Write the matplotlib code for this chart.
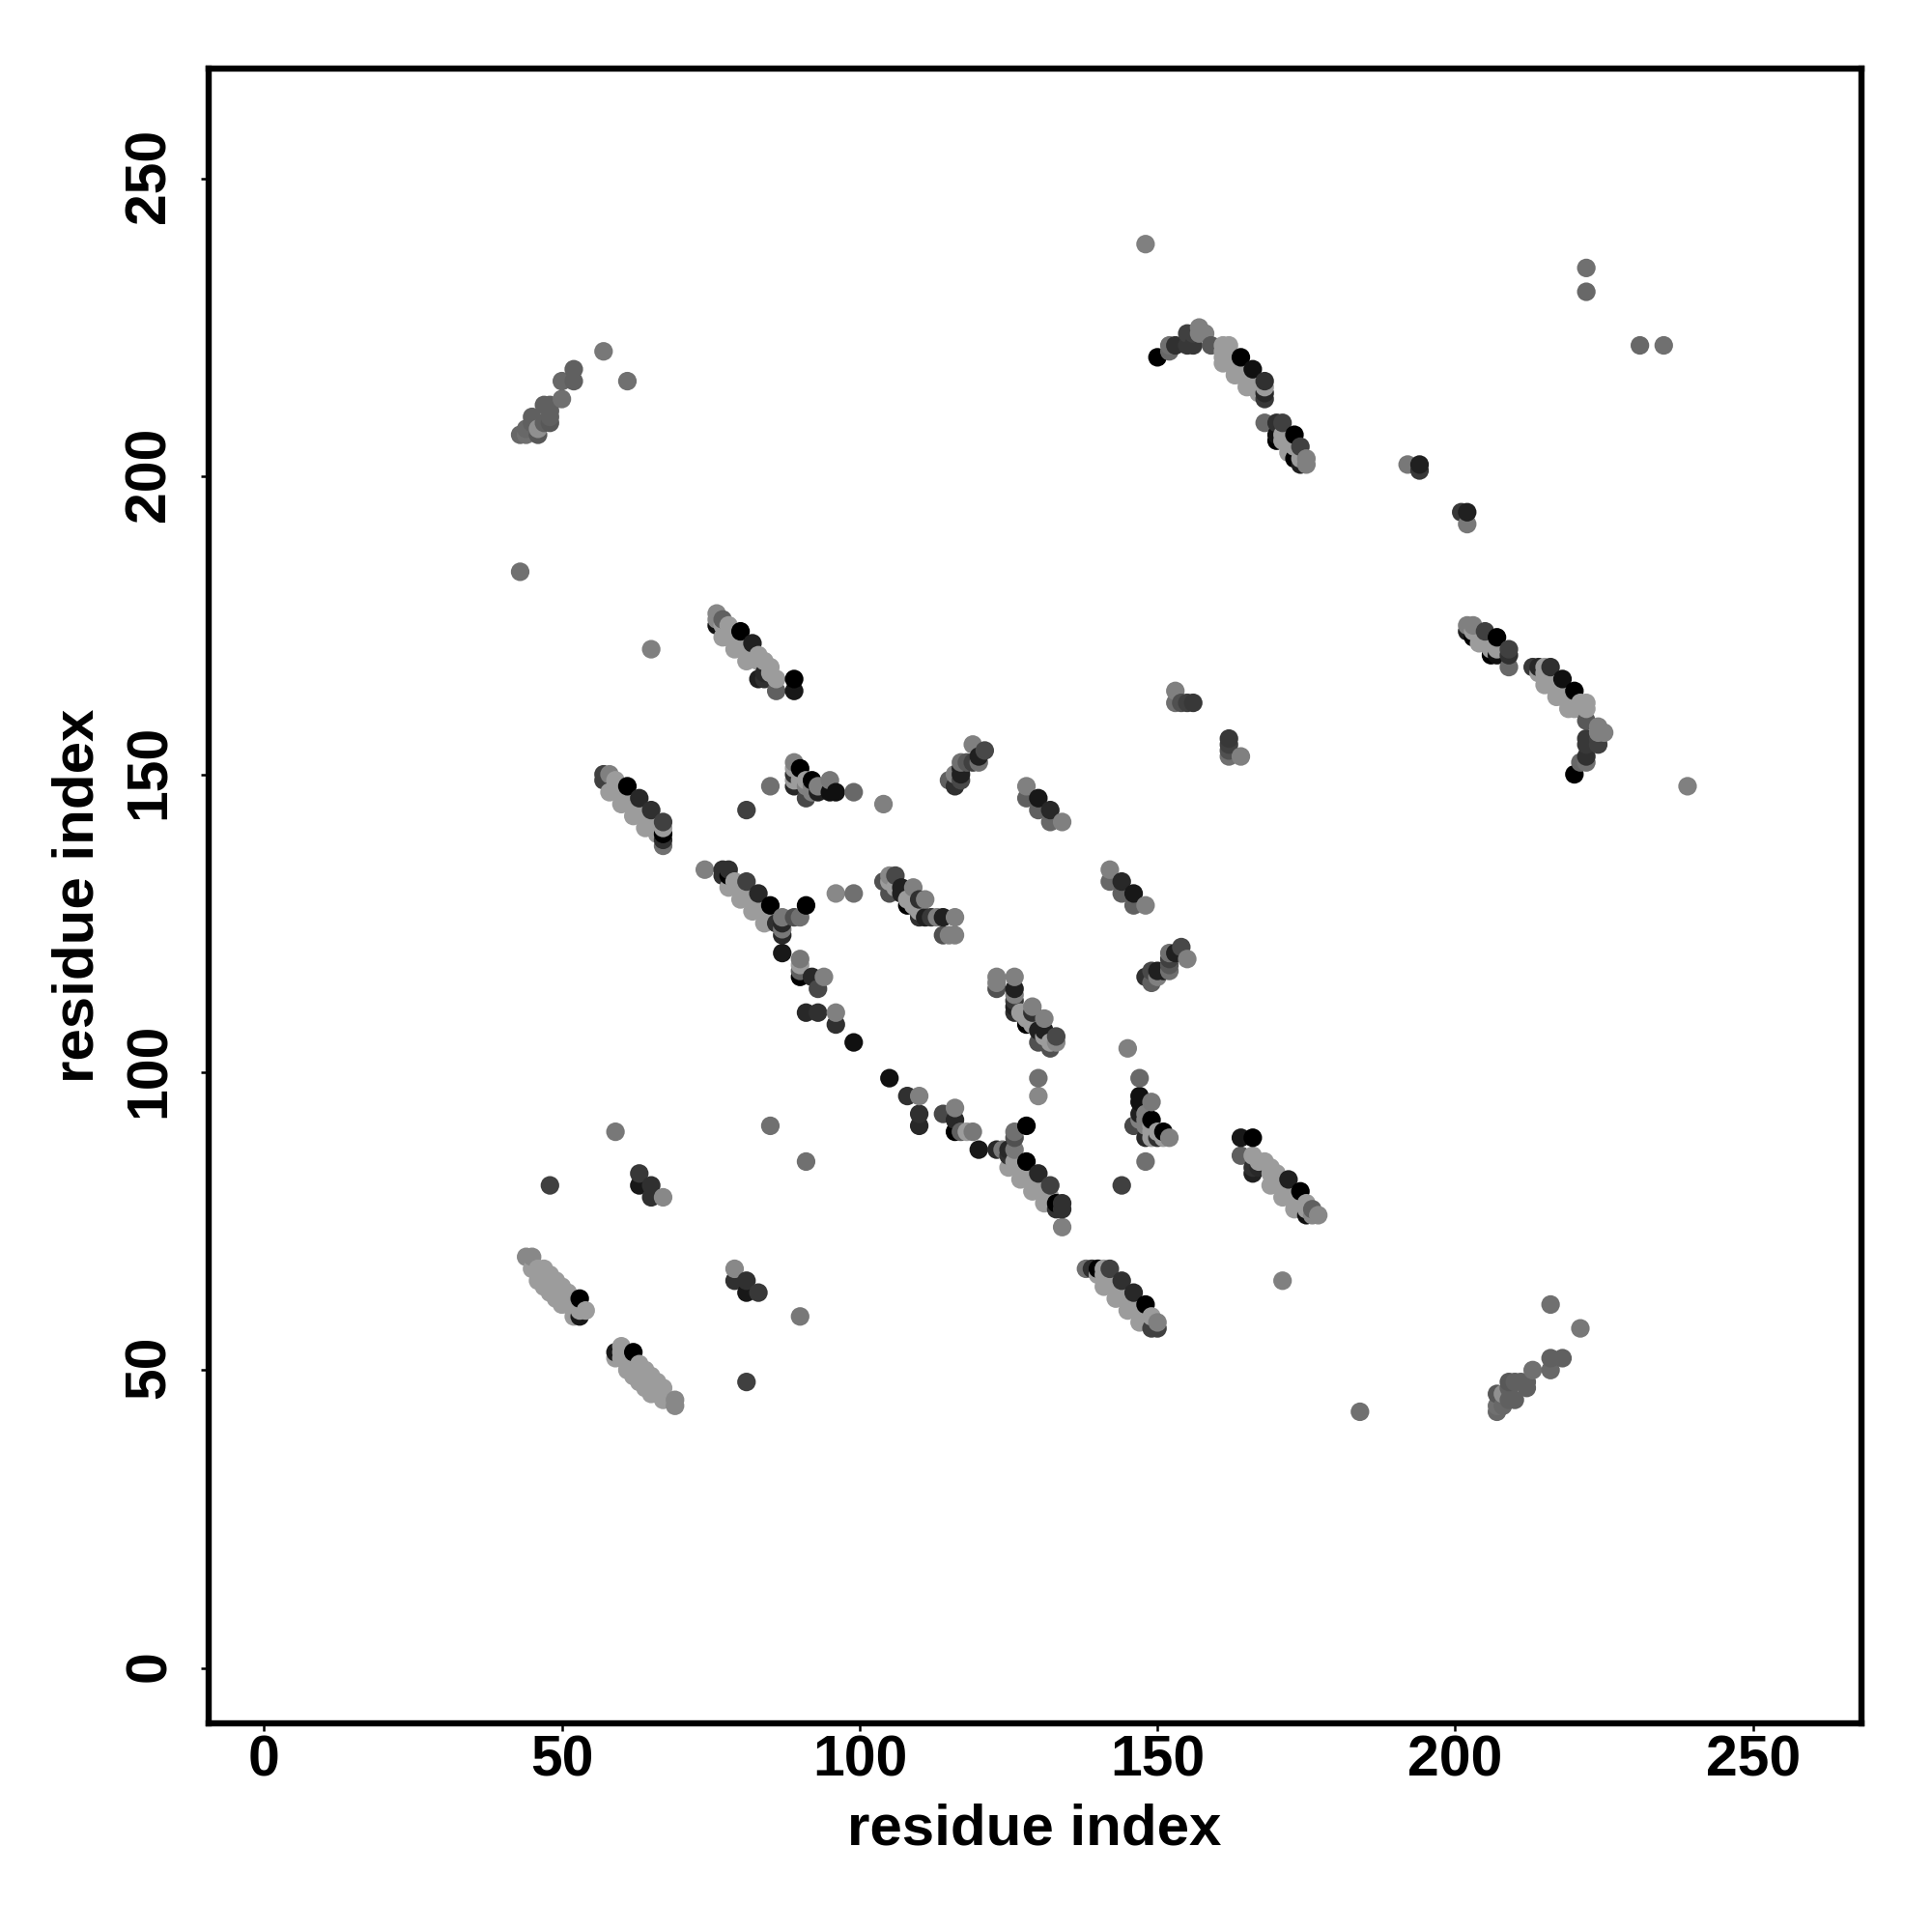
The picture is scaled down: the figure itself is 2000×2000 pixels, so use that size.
import matplotlib
matplotlib.use('Agg')
import matplotlib.pyplot as plt
from matplotlib.transforms import ScaledTranslation
import numpy as np

# contacts as (residue, residue, grey level), only the half with first < second
LT = 156

band_44_69 = [(44,69,136),(45,69,136),(45,67,LT),(46,67,LT),(47,67,LT),(46,66,LT),(47,66,LT),(48,66,LT),
              (46,65,LT),(47,65,LT),(48,65,LT),(49,65,LT),(47,64,LT),(48,64,LT),(49,64,LT),(50,64,LT),
              (48,63,LT),(49,63,LT),(50,63,LT),(51,63,LT),(49,62,LT),(50,62,LT),(51,62,LT),(50,61,LT),
              (51,61,LT),(52,61,LT),(52,60,LT),(53,62,0),(53,59,24),(52,59,LT),(54,60,LT),(53,60,LT)]
arc_43_221 = [(43,207,104),(44,207,112),(46,207,88),(44,208,104),(46,208,144),(45,209,96),(45,210,96),
              (47,209,96),(48,209,88),(48,210,96),(48,211,96),(47,212,96),(48,212,96),(50,213,112),
              (50,216,104),(52,216,96),(52,218,96),(57,221,120),(61,216,112)]
loose = [(43,184,112),(65,171,128),(48,81,64),(59,90,120),(65,79,48),(65,81,48),(63,81,24),(63,83,56),
         (67,79,136),(85,91,112),(81,144,64),(85,148,112),(104,145,128),(148,239,128),(222,235,112),
         (222,231,104),(96,130,136),(99,130,112)]
band_57_150 = [(57,150,64),(57,149,64),(58,150,128),(59,149,LT),(58,147,LT),(59,148,LT),(60,147,LT),
               (60,145,LT),(61,146,LT),(62,145,LT),(62,143,LT),(63,144,LT),(64,143,LT),(64,141,LT),
               (65,142,LT),(66,141,LT),(66,140,LT),(61,148,0),(63,146,40),(65,144,48),(67,142,64),
               (67,141,LT),(67,140,0),(67,139,48),(67,138,112)]
band_76_177 = [(76,177,136),(76,176,136),(76,175,16),(77,176,96),(77,175,LT),(78,175,LT),(77,173,LT),
               (78,173,LT),(79,173,LT),(80,172,LT),(81,171,LT),(79,171,LT),(80,174,0),(82,172,32),
               (82,170,LT),(83,169,LT),(81,169,LT),(83,170,LT),(84,169,LT),(83,166,32),(84,167,40),
               (84,166,48),(85,168,LT),(85,167,LT),(86,166,LT),(86,164,96),(89,166,0),(89,164,24)]
patch_89_99 = [(89,152,128),(89,151,LT),(89,150,48),(89,149,LT),(89,148,40),(90,151,0),(90,150,LT),
               (90,149,LT),(91,149,LT),(91,148,128),(91,146,72),(92,149,0),(92,148,128),(92,147,128),
               (93,148,128),(93,147,32),(95,149,120),(95,147,16),(96,147,16),(99,147,104)]
band_74_134 = [(74,134,128),(77,134,48),(77,133,48),(78,134,48),(78,133,0),(79,132,LT),(78,131,LT),
               (80,131,LT),(81,130,LT),(80,129,LT),(82,129,LT),(83,128,LT),(82,127,LT),(84,127,LT),
               (84,125,LT),(81,132,64),(83,130,40),(85,128,0),(85,126,LT),(86,125,48),(87,126,120),
               (87,125,40),(87,124,120),(87,123,40),(87,120,24),(89,126,80),(90,126,112),(91,128,0)]
tail_90_105 = [(90,119,120),(90,118,LT),(90,117,96),(90,116,0),(92,116,40),(94,116,128),(93,114,72),
               (91,110,40),(93,110,48),(96,110,128),(96,108,48),(99,105,16)]
patch_104_116 = [(104,132,80),(105,133,136),(106,133,72),(105,132,LT),(105,130,80),(106,131,LT),
                 (107,131,32),(107,130,32),(108,129,LT),(108,128,0),(109,131,128),(109,128,LT),
                 (110,129,48),(110,127,LT),(110,126,48),(111,129,128),(111,126,32),(112,126,56),
                 (113,126,128),(114,126,32),(116,126,128),(114,123,80),(115,123,128),(116,123,128)]
patch_115_121 = [(115,149,96),(116,150,128),(116,148,48),(117,152,112),(117,151,32),(117,150,32),
                 (117,149,72),(118,152,88),(119,155,128),(119,152,64),(120,153,32),(120,152,112),
                 (121,154,72)]
short_128_134 = [(128,148,128),(128,146,96),(130,146,24),(130,144,96),(132,144,40),(132,142,104),
                 (134,142,128)]
arc_150_225 = [(150,220,0),(152,221,104),(152,222,112),(153,222,48),(155,224,64),(155,222,56),
               (156,224,64),(156,222,56),(157,225,128),(157,224,128),(158,224,128),(159,222,88),
               (161,222,LT),(162,222,LT),(161,221,LT),(162,221,LT),(161,220,LT),(162,220,LT),
               (161,219,LT),(162,219,LT),(163,218,LT),(163,217,LT),(164,220,0),(164,217,LT),
               (165,216,LT),(165,215,LT),(166,218,16),(166,215,LT),(167,215,LT),(167,214,LT),
               (168,216,48),(168,215,LT),(168,214,40),(168,213,56)]
band_168_175 = [(168,209,104),(170,209,48),(171,209,64),(170,207,16),(170,206,0),(171,207,LT),
                (171,206,LT),(172,205,LT),(172,204,LT),(173,207,0),(173,205,LT),(174,205,64),
                (173,203,0),(174,203,LT),(174,202,32),(175,203,128),(175,202,128)]
pair_192_202 = [(192,202,120),(194,202,32),(194,201,56),(153,164,128),(153,162,112),(154,162,80),
                (155,162,64),(156,162,56)]

tick_vals = [0, 50, 100, 150, 200, 250]
axis_name = 'residue index'

half = np.array(band_44_69 + arc_43_221 + loose + band_57_150 + band_76_177 + patch_89_99 + band_74_134
                + tail_90_105 + patch_104_116 + patch_115_121 + short_128_134 + arc_150_225
                + band_168_175 + pair_192_202)

# the map is symmetric, draw both halves, lower residue first
x = np.concatenate([half[:, 0], half[:, 1]])
y = np.concatenate([half[:, 1], half[:, 0]])
g = np.concatenate([half[:, 2], half[:, 2]])
order = np.lexsort((y, x))
x, y, g = x[order], y[order], g[order]

plt.rcParams['font.family'] = ['Liberation Sans', 'DejaVu Sans']
plt.rcParams['font.weight'] = 'bold'

fig = plt.figure(figsize=(10, 10), dpi=200)
ax = fig.add_axes([216 / 2000, 216 / 2000, 1711 / 2000, 1712.6 / 2000])
ax.scatter(x, y, s=48, c=[str(v / 255) for v in g], linewidths=0)
ax.set_xlim(-9.3, 268.2)
ax.set_ylim(-9.3, 268.4)
ax.set_xticks(tick_vals)
ax.set_yticks(tick_vals)
ax.set_xticklabels(tick_vals, fontsize=21.2, fontweight='bold')
ax.set_yticklabels(tick_vals, fontsize=21.2, fontweight='bold', rotation=90, va='center')
ax.tick_params(length=3, width=0.9, pad=1)
ax.tick_params(axis='y', pad=9)
# rotated labels sit a little low, nudge them up
nudge = ScaledTranslation(0, 0.0125, fig.dpi_scale_trans)
for lbl in ax.get_yticklabels():
    lbl.set_transform(lbl.get_transform() + nudge)
for s in ax.spines.values():
    s.set_linewidth(2.3)
fig.text(1071 / 2000, 1 - 1894 / 2000, axis_name, fontsize=21.6, fontweight='bold', ha='center', va='center')
fig.text(81 / 2000, 1 - 927 / 2000, axis_name, fontsize=21.6, fontweight='bold', ha='center', va='center', rotation=90)

fig.savefig('out.png', dpi=200)
